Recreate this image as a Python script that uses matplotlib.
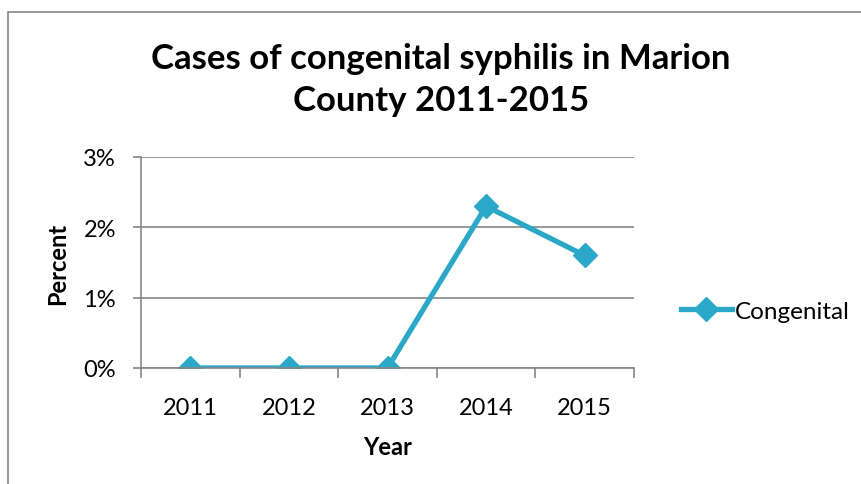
"""Congenital syphilis cases line chart."""
import matplotlib
matplotlib.use("Agg")
from matplotlib import pyplot as plt
from matplotlib.patches import Rectangle
from matplotlib.ticker import FixedLocator, FuncFormatter

years = ["2011", "2012", "2013", "2014", "2015"]
congenital = [0.0, 0.0, 0.0, 2.3, 1.6]  # percent
y_ticks = [0, 1, 2, 3]

LINE = "#2BA8C8"
GRID = "#868686"

plt.rcParams["font.family"] = ["Lato", "DejaVu Sans"]

fig = plt.figure(figsize=(8.62, 4.85), dpi=100)
fig.patch.set_facecolor("white")
fig.patches.append(Rectangle((8.5 / 862, -0.1), 1.0, (485 - 12.5) / 485 + 0.1,
                             transform=fig.transFigure, fill=False,
                             edgecolor=GRID, linewidth=1.2, clip_on=False))

ax = fig.add_axes([141 / 862, 1 - 369 / 485, 493 / 862, 211 / 485])
x = list(range(len(years)))
ax.plot(x, congenital, color=LINE, linewidth=3.8, marker="D", markersize=12,
        label="Congenital")

ax.set_xlim(-0.5, len(years) - 0.5)
ax.set_ylim(0, 3)
ax.set_xticks(x)
ax.set_xticklabels(years)
ax.xaxis.set_minor_locator(FixedLocator([i - 0.5 for i in range(len(years) + 1)]))
ax.tick_params(axis="x", which="major", length=0, pad=21, labelsize=17)
ax.tick_params(axis="x", which="minor", length=7, width=1.2, color=GRID)
ax.set_yticks(y_ticks)
ax.yaxis.set_major_formatter(FuncFormatter(lambda v, p: f"{v:.0f}%"))
ax.tick_params(axis="y", length=6, width=1.2, color=GRID, pad=12, labelsize=17)

ax.grid(axis="y", color=GRID, linewidth=1.2)
ax.set_axisbelow(True)
for side in ("top", "right"):
    ax.spines[side].set_visible(False)
for side in ("left", "bottom"):
    ax.spines[side].set_color(GRID)
    ax.spines[side].set_linewidth(1.2)

ax.set_xlabel("Year", fontsize=17, fontweight="bold", labelpad=12)
ax.set_ylabel("Percent", fontsize=17, fontweight="bold", labelpad=10)

fig.text(441 / 862, 1 - 80 / 485,
         "Cases of congenital syphilis in Marion\nCounty 2011-2015",
         ha="center", va="center", fontsize=25, fontweight="bold",
         linespacing=1.35)

ax.legend(loc="center left", bbox_to_anchor=(1.05, 0.27), frameon=False,
          fontsize=17.5, handlelength=2.1, handletextpad=0.15)

fig.savefig("out.png", dpi=100)
plt.close(fig)
